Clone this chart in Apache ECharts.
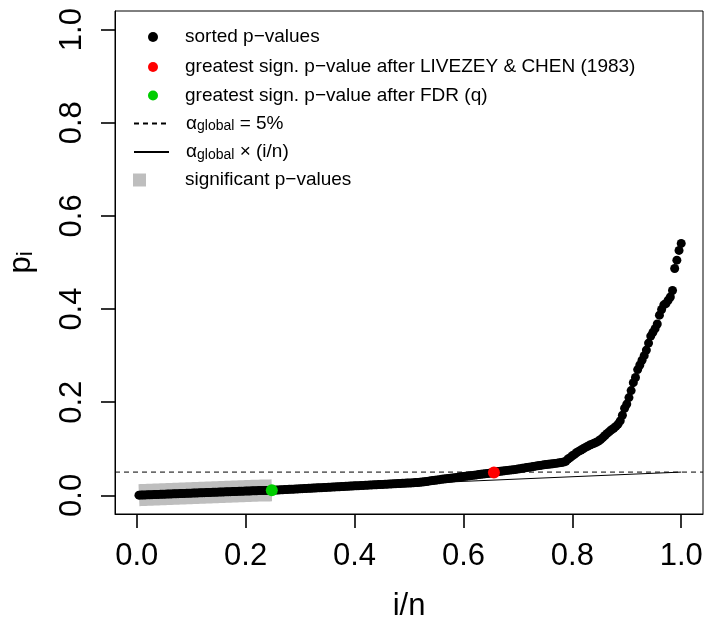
<!DOCTYPE html>
<html><head><meta charset="utf-8">
<script src="https://cdn.jsdelivr.net/npm/echarts@6/dist/echarts.min.js"></script>
<style>html,body{margin:0;padding:0;background:#fff}#c{width:704px;height:626px}</style>
</head><body><div id="c"></div>
<script>
// ---------- data ----------
const xTicks = [0.0, 0.2, 0.4, 0.6, 0.8, 1.0];
const yTicks = [0.0, 0.2, 0.4, 0.6, 0.8, 1.0];
const alphaGlobal = 0.05;
const fdrIndex = 62;      // greatest significant rank after FDR (1-based)
const lcIndex = 164;      // greatest significant rank after Livezey & Chen (1-based)
// sorted p-values (rank i = 1..n)
const pSorted = [
 0.0004,0.0006,0.0008,0.0010,0.0012,0.0013,0.0015,0.0017,0.0019,0.0021,
 0.0022,0.0024,0.0026,0.0028,0.0030,0.0031,0.0033,0.0035,0.0037,0.0038,
 0.0040,0.0042,0.0044,0.0045,0.0047,0.0049,0.0051,0.0053,0.0054,0.0056,
 0.0058,0.0060,0.0061,0.0063,0.0065,0.0067,0.0069,0.0070,0.0072,0.0074,
 0.0076,0.0077,0.0079,0.0081,0.0083,0.0085,0.0086,0.0088,0.0090,0.0092,
 0.0093,0.0095,0.0097,0.0099,0.0100,0.0102,0.0103,0.0104,0.0105,0.0106,
 0.0107,0.0108,
 0.0111,0.0114,0.0116,0.0119,0.0121,0.0124,0.0126,0.0129,0.0131,0.0134,
 0.0136,0.0139,0.0141,0.0144,0.0146,0.0149,0.0151,0.0154,0.0156,0.0159,
 0.0161,0.0164,0.0166,0.0169,0.0171,0.0174,0.0176,0.0179,0.0181,0.0184,
 0.0186,0.0189,0.0191,0.0194,0.0196,0.0199,0.0201,0.0204,0.0206,0.0209,
 0.0211,0.0214,0.0216,0.0219,0.0221,0.0224,0.0226,0.0229,0.0231,0.0234,
 0.0236,0.0239,0.0241,0.0244,0.0246,0.0249,0.0251,0.0254,0.0256,0.0259,
 0.0261,0.0264,0.0266,0.0268,0.0271,0.0274,0.0277,0.0281,
 0.0286,0.0292,0.0298,0.0305,0.0312,0.0318,0.0325,0.0332,0.0338,0.0344,
 0.0350,0.0356,0.0362,0.0368,0.0374,0.0380,0.0386,0.0392,0.0398,0.0404,
 0.0410,0.0416,0.0422,0.0428,0.0434,0.0440,0.0446,0.0452,0.0458,0.0464,
 0.0470,0.0476,0.0483,0.0490,
 0.0505,0.0512,0.0518,0.0524,0.0530,0.0536,0.0541,0.0547,0.0552,0.0557,
 0.0565,0.0573,0.0580,0.0588,0.0596,0.0603,0.0611,0.0620,
 0.0627,0.0634,0.0641,0.0648,0.0655,0.0662,0.0668,0.0674,0.0680,0.0686,
 0.0692,0.0698,0.0705,0.0715,0.0730,
 0.0780,0.0810,0.0850,0.0880,0.0920,0.0950,0.0975,0.1000,0.1030,0.1055,
 0.1080,0.1100,0.1120,0.1140,0.1165,0.1200,0.1240,0.1285,0.1330,0.1370,
 0.1410,0.1440,0.1480,0.1530,0.1600,
 0.1720,0.1870,0.1960,0.2100,0.2250,0.2420,0.2530,0.2700,0.2800,0.2900,
 0.3000,0.3120,0.3270,0.3420,0.3500,0.3580,0.3680,0.3870,0.3990,0.4090,
 0.4120,0.4190,0.4260,0.4400,0.4870,0.5050,0.5260,0.5410
];
const legendNames = [
 'sorted p\u2212values',
 'greatest sign. p\u2212value after LIVEZEY & CHEN (1983)',
 'greatest sign. p\u2212value after FDR (q)',
 'alpha_global = 5%',
 'alpha_global x (i/n)',
 'significant p\u2212values'
];
const xTitle = 'i/n';

// ---------- build ----------
const n = pSorted.length;
const pts = pSorted.map((p, k) => [(k + 1) / n, p]);
const sigPts = pts.slice(0, fdrIndex);
const lcPt = [pts[lcIndex - 1]];
const fdrPt = [pts[fdrIndex - 1]];
const FONT = '"Liberation Sans", Arial, Helvetica, sans-serif';

function richFor(spacer) {
  return {
    sp: {width: spacer, fontSize: 19, lineHeight: 20},
    a: {fontSize: 19, lineHeight: 20, color: '#000', fontFamily: FONT},
    s: {fontSize: 14, lineHeight: 8, verticalAlign: 'bottom', color: '#000', fontFamily: FONT}
  };
}
function fmtName(name) {
  if (name === legendNames[3]) return '{sp| }{a|\u03b1}{s|global}{a| = 5%}';
  if (name === legendNames[4]) return '{sp| }{a|\u03b1}{s|global}{a| \u00d7 (i/n)}';
  return '{sp| }{a|' + name + '}';
}
function mkLegend(name, left, top, iw, ih, spacer, icon, hideSymbol) {
  const d = {name: name};
  if (icon) d.icon = icon;
  if (hideSymbol) d.itemStyle = {opacity: 0, color: 'rgba(0,0,0,0)', borderWidth: 0};
  return {
    data: [d], left: left, top: top, orient: 'vertical', padding: 0,
    itemWidth: iw, itemHeight: ih, selectedMode: false,
    formatter: fmtName,
    textStyle: {fontFamily: FONT, fontSize: 19, color: '#000', rich: richFor(spacer)}
  };
}

const chart = echarts.init(document.getElementById('c'), null, {renderer: 'canvas'});
chart.setOption({
  animation: false,
  backgroundColor: '#fff',
  textStyle: {fontFamily: FONT},
  grid: {left: 115, right: 1, top: 11, bottom: 112, show: true, borderColor: '#000', borderWidth: 1,
         backgroundColor: 'transparent', containLabel: false, outerBoundsMode: 'none'},
  legend: [
    mkLegend(legendNames[0], 148, 27.5, 10, 10, 22),
    mkLegend(legendNames[1], 148, 57.5, 10, 10, 22),
    mkLegend(legendNames[2], 148, 86, 10, 10, 22),
    mkLegend(legendNames[3], 133, 114, 35, 10, 12, null, true),
    mkLegend(legendNames[4], 133, 142.5, 35, 10, 12, null, true),
    mkLegend(legendNames[5], 133, 170.5, 13, 13, 34, 'rect')
  ],
  xAxis: {
    type: 'value', min: -0.04, max: 1.04,
    splitLine: {show: false},
    axisLine: {show: true, onZero: false, lineStyle: {color: '#000', width: 1}},
    axisTick: {show: true, length: 14, inside: false, customValues: xTicks, lineStyle: {color: '#000', width: 1.6}},
    axisLabel: {customValues: xTicks, formatter: v => v.toFixed(1), fontSize: 31, color: '#000', margin: 27, fontFamily: FONT},
    name: xTitle, nameLocation: 'middle', nameGap: 77,
    nameTextStyle: {fontSize: 31, color: '#000', fontFamily: FONT}
  },
  yAxis: {
    type: 'value', min: -0.04, max: 1.04,
    splitLine: {show: false},
    axisLine: {show: true, onZero: false, lineStyle: {color: '#000', width: 1}},
    axisTick: {show: true, length: 14, inside: false, customValues: yTicks, lineStyle: {color: '#000', width: 1.6}},
    axisLabel: {customValues: yTicks, formatter: v => v.toFixed(1), fontSize: 31, color: '#000', margin: 27, rotate: 90, fontFamily: FONT},
    name: '{p|p}{i|i}', nameLocation: 'middle', nameGap: 78,
    nameTextStyle: {color: '#000', fontFamily: FONT,
      rich: {p: {fontSize: 31, lineHeight: 31, fontFamily: FONT, color: '#000'},
             i: {fontSize: 22, lineHeight: 4, verticalAlign: 'bottom', fontFamily: FONT, color: '#000'}}}
  },
  series: [
    {name: legendNames[5], type: 'line', data: sigPts, symbol: 'none', z: 1,
     lineStyle: {color: '#BEBEBE', width: 22, cap: 'butt', join: 'miter'}, itemStyle: {color: '#BEBEBE'}},
    {name: legendNames[3], type: 'line', data: [[-0.04, alphaGlobal], [1.04, alphaGlobal]], symbol: 'none', z: 2,
     lineStyle: {color: '#000', width: 1, type: [5, 4]}, itemStyle: {color: '#000'}},
    {name: legendNames[4], type: 'line', data: [[0, 0], [1, alphaGlobal]], symbol: 'none', z: 2,
     lineStyle: {color: '#000', width: 1}, itemStyle: {color: '#000'}},
    {name: legendNames[0], type: 'scatter', data: pts, symbol: 'circle', symbolSize: 9, z: 3,
     itemStyle: {color: '#000', opacity: 1}},
    {name: legendNames[1], type: 'scatter', data: lcPt, symbol: 'circle', symbolSize: 12, z: 4,
     itemStyle: {color: '#FF0000', opacity: 1}},
    {name: legendNames[2], type: 'scatter', data: fdrPt, symbol: 'circle', symbolSize: 12, z: 4,
     itemStyle: {color: '#00CD00', opacity: 1}}
  ]
});
</script>
</body></html>
